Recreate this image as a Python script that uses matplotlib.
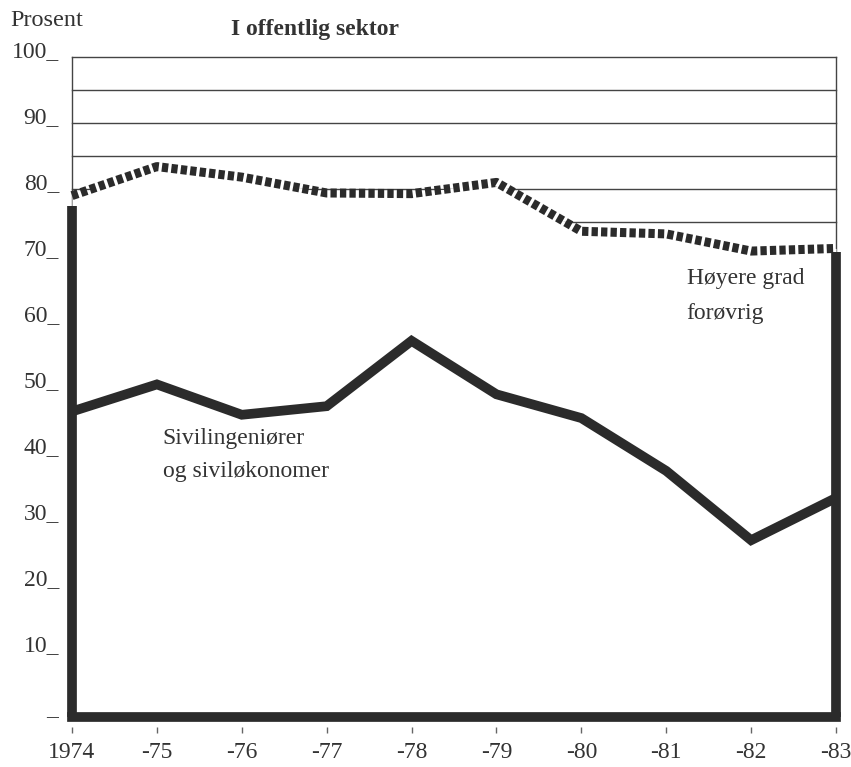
import numpy as np
import matplotlib
matplotlib.use("Agg")
from matplotlib import pyplot as plt

plt.rcParams['font.family'] = ['Liberation Serif', 'DejaVu Serif']

years = [1974, 1975, 1976, 1977, 1978, 1979, 1980, 1981, 1982, 1983]
year_labels = ['1974', '-75', '-76', '-77', '-78', '-79', '-80', '-81', '-82', '-83']
# Høyere grad forøvrig (dotted)
hoyere = [79.0, 83.4, 81.8, 79.4, 79.3, 81.0, 73.6, 73.2, 70.6, 71.0]
# Sivilingeniører og siviløkonomer (solid)
siving = [46.3, 50.4, 45.8, 47.1, 57.0, 48.9, 45.3, 37.3, 26.8, 33.2]
grid_levels = [75, 80, 85, 90, 95, 100]
ytick_vals = [10, 20, 30, 40, 50, 60, 70, 80, 90, 100]

dark = '#2b2b2b'
txt = '#333333'

fig = plt.figure(figsize=(8.51, 7.67), dpi=100)
ax = fig.add_axes([72/851, 1 - 727/767, (836 - 72)/851, (727 - 57)/767])
ax.set_xlim(years[0], years[-1])
ax.set_ylim(-1.5, 100)

# thin frame + upper gridlines
for lev in grid_levels:
    ax.plot([years[0], years[-1]], [lev, lev], color='#444444', lw=1.0, zorder=1, clip_on=False)
ax.plot([years[0], years[0]], [0, 100], color='#444444', lw=1.0, zorder=1, clip_on=False)
ax.plot([years[-1], years[-1]], [0, 100], color='#444444', lw=1.0, zorder=1, clip_on=False)

# hide gridlines below the dotted curve
ax.fill_between(years, 0, hoyere, color='white', zorder=2, lw=0)

# thick outline of the lower area
ax.plot([years[0], years[0]], [0, hoyere[0] - 1.5], color=dark, lw=7, zorder=3,
        solid_capstyle='butt', clip_on=False)
ax.plot([years[-1], years[-1]], [0, hoyere[-1] - 0.5], color=dark, lw=7, zorder=3,
        solid_capstyle='butt', clip_on=False)
ax.plot([years[0], years[-1]], [0, 0], color=dark, lw=7, zorder=3,
        solid_capstyle='projecting', clip_on=False)

ax.plot(years, siving, color=dark, lw=7, zorder=4, solid_joinstyle='miter',
        solid_capstyle='butt', clip_on=True)
ax.plot(years, hoyere, color=dark, lw=6.5, zorder=4, linestyle=(0, (0.7, 0.35)),
        dash_capstyle='butt', clip_on=False)

for sp in ax.spines.values():
    sp.set_visible(False)

ax.set_xticks(years)
ax.set_xticklabels(year_labels, fontsize=17, color=txt)
ax.tick_params(axis='x', direction='out', length=4, width=1, color='#666666', pad=7)
ax.set_yticks([])

for v in ytick_vals:
    ax.text(-0.017, v, f'{v}_', transform=ax.get_yaxis_transform(), ha='right',
            va='baseline', fontsize=17, color=txt)
ax.text(-0.018, 0, '–', transform=ax.get_yaxis_transform(), ha='right',
        va='center', fontsize=17, color=txt)

ax.text(1981.24, 66.4, 'Høyere grad', fontsize=17, color=txt, va='center', ha='left')
ax.text(1981.24, 61.2, 'forøvrig', fontsize=17, color=txt, va='center', ha='left')
ax.text(1975.07, 42.2, 'Sivilingeniører', fontsize=17, color=txt, va='center', ha='left')
ax.text(1975.07, 37.2, 'og siviløkonomer', fontsize=17, color=txt, va='center', ha='left')

fig.text(10/851, 1 - 20/767, 'Prosent', fontsize=17.5, color=txt, va='center', ha='left')
fig.text(315/851, 1 - 30/767, 'I offentlig sektor', fontsize=17, fontweight='bold',
         color=txt, va='center', ha='center')

fig.savefig('out.png', dpi=100)
